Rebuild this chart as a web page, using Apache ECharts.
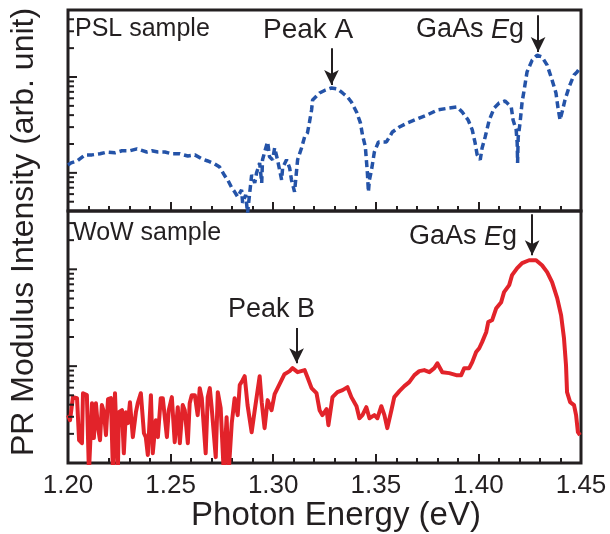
<!DOCTYPE html>
<html>
<head>
<meta charset="utf-8">
<title>PR spectra</title>
<script src="https://cdn.jsdelivr.net/npm/echarts@6.0.0/dist/echarts.min.js"></script>
<style>
html,body{margin:0;padding:0;background:#fff;}
#chart{width:610px;height:534px;}
</style>
</head>
<body>
<div id="chart"></div>
<script>
// values (energy in eV, PR intensity in arb. unit, log axis)
var pslEnergy=[1.2000,1.2015,1.2044,1.2083,1.2117,1.2156,1.2190,1.2229,1.2263,1.2302,
  1.2336,1.2384,1.2409,1.2438,1.2472,1.2506,1.2545,1.2584,1.2618,1.2652,
  1.2681,1.2715,1.2739,1.2764,1.2778,1.2798,1.2812,1.2827,1.2846,1.2851,
  1.2866,1.2875,1.2895,1.2910,1.2919,1.2934,1.2944,1.2948,1.2968,1.2973,
  1.2982,1.2997,1.3007,1.3021,1.3041,1.3046,1.3065,1.3080,1.3089,1.3104,
  1.3119,1.3138,1.3153,1.3167,1.3177,1.3187,1.3192,1.3226,1.3255,1.3284,
  1.3313,1.3338,1.3362,1.3381,1.3406,1.3425,1.3435,1.3449,1.3454,1.3459,
  1.3464,1.3469,1.3479,1.3493,1.3513,1.3552,1.3581,1.3615,1.3654,1.3702,
  1.3751,1.3800,1.3858,1.3897,1.3921,1.3950,1.3970,1.3984,1.3994,1.4009,
  1.4018,1.4033,1.4053,1.4077,1.4101,1.4130,1.4160,1.4169,1.4184,1.4189,
  1.4191,1.4194,1.4203,1.4213,1.4223,1.4237,1.4262,1.4286,1.4310,1.4335,
  1.4359,1.4378,1.4388,1.4398,1.4408,1.4422,1.4442,1.4466,1.4481,1.4495];
var pslSignal=[1.21,1.27,1.33,1.54,1.54,1.58,1.65,1.62,1.70,1.70,
  1.78,1.65,1.70,1.65,1.65,1.58,1.58,1.50,1.54,1.40,
  1.33,1.24,1.15,0.93,0.846,0.698,0.634,0.562,0.665,0.487,
  0.590,0.38,0.953,0.787,1.00,1.27,0.787,1.37,1.96,2.10,
  1.47,1.37,1.82,1.37,0.846,1.13,1.37,1.13,0.846,0.634,
  1.37,1.82,2.37,2.61,3.40,4.53,5.76,6.81,7.32,7.68,
  7.50,6.81,6.19,5.49,4.32,3.32,2.49,1.87,1.37,1.00,
  0.634,0.846,1.07,1.65,2.10,2.10,2.67,3.01,3.32,3.65,
  4.02,4.53,4.75,4.87,4.32,3.56,2.81,2.05,1.54,1.37,
  1.82,2.37,3.56,4.75,5.36,5.62,4.87,3.56,2.81,2.05,
  1.27,2.37,3.32,5.49,7.32,11.3,15.0,16.9,16.2,13.3,
  9.31,6.81,4.75,3.56,4.32,5.76,7.87,10.5,11.3,12.4];

var wowEnergy=[1.2000,1.2010,1.2024,1.2044,1.2054,1.2068,1.2073,1.2092,1.2102,1.2117,
  1.2126,1.2136,1.2146,1.2156,1.2165,1.2175,1.2185,1.2195,1.2209,1.2219,
  1.2229,1.2243,1.2248,1.2263,1.2272,1.2282,1.2292,1.2302,1.2316,1.2331,
  1.2340,1.2355,1.2370,1.2379,1.2389,1.2404,1.2413,1.2428,1.2438,1.2452,
  1.2462,1.2482,1.2491,1.2506,1.2520,1.2535,1.2545,1.2559,1.2569,1.2584,
  1.2593,1.2603,1.2618,1.2632,1.2642,1.2652,1.2671,1.2681,1.2691,1.2700,
  1.2720,1.2730,1.2744,1.2759,1.2773,1.2783,1.2798,1.2812,1.2827,1.2837,
  1.2851,1.2861,1.2875,1.2895,1.2910,1.2934,1.2944,1.2958,1.2973,1.2992,
  1.3007,1.3031,1.3055,1.3080,1.3094,1.3119,1.3153,1.3167,1.3187,1.3211,
  1.3226,1.3240,1.3260,1.3269,1.3289,1.3313,1.3338,1.3362,1.3381,1.3406,
  1.3420,1.3435,1.3454,1.3469,1.3493,1.3508,1.3527,1.3542,1.3556,1.3576,
  1.3590,1.3615,1.3639,1.3663,1.3688,1.3712,1.3736,1.3761,1.3785,1.3800,
  1.3824,1.3858,1.3892,1.3916,1.3931,1.3955,1.3970,1.3989,1.4004,1.4018,
  1.4038,1.4048,1.4067,1.4087,1.4111,1.4125,1.4150,1.4164,1.4189,1.4213,
  1.4247,1.4281,1.4310,1.4335,1.4359,1.4384,1.4403,1.4417,1.4427,1.4432,
  1.4447,1.4466,1.4476,1.4485,1.4495];
var wowSignal=[0.312,0.277,0.479,0.467,0.172,0.160,0.526,0.502,0.08,0.415,
  0.181,0.415,0.234,0.172,0.396,0.335,0.194,0.456,0.467,0.08,
  0.526,0.08,0.335,0.351,0.126,0.335,0.258,0.425,0.185,0.335,
  0.415,0.526,0.203,0.185,0.121,0.502,0.126,0.277,0.185,0.467,
  0.467,0.185,0.351,0.479,0.164,0.377,0.160,0.396,0.351,0.160,
  0.415,0.502,0.502,0.312,0.593,0.467,0.126,0.479,0.593,0.377,
  0.115,0.539,0.368,0.08,0.297,0.08,0.258,0.467,0.312,0.637,
  0.717,0.788,0.396,0.208,0.351,0.788,0.425,0.229,0.446,0.351,
  0.514,0.652,0.826,0.888,0.954,0.867,0.910,0.769,0.593,0.526,
  0.351,0.312,0.360,0.246,0.479,0.539,0.565,0.607,0.479,0.386,
  0.290,0.312,0.377,0.290,0.312,0.290,0.386,0.312,0.229,0.351,
  0.479,0.552,0.622,0.684,0.807,0.888,0.910,0.867,0.954,1.07,
  0.867,0.847,0.807,0.807,0.954,0.954,1.10,1.40,1.53,1.77,
  2.24,2.85,2.99,3.97,4.58,5.81,6.86,8.70,10.3,11.6,
  12.4,12.4,11.0,9.35,7.36,5.04,3.36,1.95,1.02,0.539,
  0.425,0.396,0.312,0.208,0.194];

// y-axis ticks (log axes: decades long, 2..9 short)
var majorDecades=[1,10];
var pslMinor=[0.5,0.6,0.7,0.8,0.9,2,3,4,5,6,7,8,9,20,30,40];
var wowMinor=[0.2,0.3,0.4,0.5,0.6,0.7,0.8,0.9,2,3,4,5,6,7,8,9,20,30];

// arrows: [energy, from, to]
var pslArrows=[[1.3284,20,8.26],[1.4291,44,18.2]];
var wowArrows=[[1.3114,2.47,1.07],[1.4262,37,14]];

var INK='#231f20';
var FONT='"Liberation Sans", Arial, Helvetica, sans-serif';
var MAJOR_LEN=9, MINOR_LEN=6;

function pairs(xs,ys){
  var out=[];
  for(var i=0;i<xs.length;i++){
    out.push([xs[i],ys[i]]);
  }
  return out;
}

function arrowLines(list){
  var out=[];
  for(var i=0;i<list.length;i++){
    out.push([{coord:[list[i][0],list[i][1]]},{coord:[list[i][0],list[i][2]]}]);
  }
  return out;
}

function xAxisOf(grid,showLabel){
  return {
    type:'value',gridIndex:grid,min:1.2,max:1.45,interval:0.05,
    axisLine:{show:false},
    axisTick:{show:true,inside:true,length:9,lineStyle:{color:INK,width:2}},
    minorTick:{show:true,splitNumber:5,length:5,lineStyle:{color:INK,width:2}},
    splitLine:{show:false},minorSplitLine:{show:false},
    axisLabel:{show:showLabel,color:INK,fontSize:26,fontFamily:FONT,margin:10,
      formatter:function(v){return v.toFixed(2);}}
  };
}

function yAxisOf(grid,min,max){
  return {
    type:'log',gridIndex:grid,min:min,max:max,position:'left',
    axisLine:{show:false},axisTick:{show:false},axisLabel:{show:false},
    splitLine:{show:false}
  };
}

// the log-axis ticks: a small custom series placed through the axis scale
function tickSeries(grid,minor){
  var data=[],i;
  for(i=0;i<majorDecades.length;i++) data.push([majorDecades[i],MAJOR_LEN]);
  for(i=0;i<minor.length;i++) data.push([minor[i],MINOR_LEN]);
  return {
    type:'custom',xAxisIndex:grid,yAxisIndex:grid,silent:true,z:5,
    encode:{y:0},
    data:data,
    renderItem:function(params,api){
      var p=api.coord([1.2,api.value(0)]);
      return {type:'line',shape:{x1:p[0],y1:p[1],x2:p[0]+api.value(1),y2:p[1]},
        style:{stroke:INK,lineWidth:2}};
    }
  };
}

function mark(list){
  return {
    silent:true,animation:false,
    symbol:['none','arrow'],symbolSize:[11,15],
    lineStyle:{color:INK,width:2,type:'solid'},
    label:{show:false},
    data:arrowLines(list)
  };
}

function label(text,x,y,size){
  return {type:'text',x:x,y:y,style:{text:text,fill:INK,fontSize:size,fontFamily:FONT,verticalAlign:'middle'}};
}

function eg(x,y){
  return {type:'text',x:x,y:y,style:{
    text:'{n|GaAs }{i|E}{n|g}',verticalAlign:'middle',
    rich:{
      n:{fill:INK,fontSize:27,fontFamily:FONT},
      i:{fill:INK,fontSize:27,fontFamily:FONT,fontStyle:'italic'}
    }}};
}

var option={
  animation:false,
  grid:[
    {left:68,right:29,top:10,height:201,show:true,borderColor:INK,borderWidth:3},
    {left:68,right:29,top:211,height:252,show:true,borderColor:INK,borderWidth:3}
  ],
  xAxis:[xAxisOf(0,false),xAxisOf(1,true)],
  yAxis:[yAxisOf(0,0.4,50),yAxisOf(1,0.1,40)],
  series:[
    {
      name:'PSL sample',type:'line',xAxisIndex:0,yAxisIndex:0,
      data:pairs(pslEnergy,pslSignal),showSymbol:false,clip:true,
      lineStyle:{color:'#2453a8',width:3.5,type:[7,4]},
      markLine:mark(pslArrows)
    },
    {
      name:'WoW sample',type:'line',xAxisIndex:1,yAxisIndex:1,
      data:pairs(wowEnergy,wowSignal),showSymbol:false,clip:true,
      lineStyle:{color:'#e2232a',width:4,join:'round'},
      markLine:mark(wowArrows)
    },
    tickSeries(0,pslMinor),
    tickSeries(1,wowMinor)
  ],
  graphic:[
    label('PSL sample',75,29,25),
    label('Peak A',263,30,28),
    eg(416,30),
    label('WoW sample',73,233,25),
    label('Peak B',228,310,27),
    eg(409,237),
    {type:'text',x:336,y:516,style:{text:'Photon Energy (eV)',fill:INK,fontSize:33,fontFamily:FONT,align:'center',verticalAlign:'middle'}},
    {type:'text',x:24,y:232,rotation:Math.PI/2,style:{text:'PR Modulus Intensity (arb. unit)',fill:INK,fontSize:32,fontFamily:FONT,align:'center',verticalAlign:'middle'}}
  ]
};

var myChart=echarts.init(document.getElementById('chart'));
myChart.setOption(option);
</script>
</body>
</html>
